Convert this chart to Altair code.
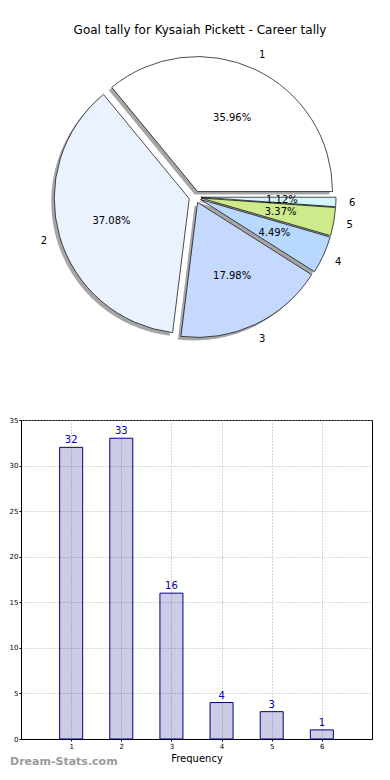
import math
import altair as alt
import pandas as pd

# ---- data ----
categories = [1, 2, 3, 4, 5, 6]
counts = [32, 33, 16, 4, 3, 1]
slice_colors = ["#ffffff", "#eaf1ff", "#c5d9ff", "#b9d8ff", "#cdeb8b", "#d4f5fc"]
title_text = "Goal tally for Kysaiah Pickett - Career tally"
x_ticks = [1, 2, 3, 4, 5, 6]
y_ticks = [0, 5, 10, 15, 20, 25, 30, 35]

df = pd.DataFrame({"cat": categories, "n": counts})

# ---- layout constants (pixels) ----
CX, CY, R, E = 174, 154, 135, 6
FONT = "DejaVu Sans"

pie_base = (
    alt.Chart(df)
    .transform_joinaggregate(total="sum(n)")
    .transform_window(cum="sum(n)", sort=[alt.SortField("cat", order="descending")], frame=[None, 0])
    .transform_calculate(fs="(datum.cum - datum.n) / datum.total", fe="datum.cum / datum.total")
    .transform_calculate(mid="PI / 2 + PI * (datum.fs + datum.fe)")
    .transform_calculate(
        ax=f"{CX} + {E} * sin(datum.mid)",
        ay=f"{CY} - {E} * cos(datum.mid)",
        pct="format(datum.n / datum.total * 100, '.2f') + '%'",
        lab="'' + datum.cat",
    )
    .transform_calculate(
        px=f"datum.ax + {0.6 * R} * sin(datum.mid)",
        py=f"datum.ay - {0.6 * R} * cos(datum.mid)",
        lx=f"datum.ax + {1.12 * R} * sin(datum.mid)",
        ly=f"datum.ay - {1.12 * R} * cos(datum.mid)",
        sx="datum.ax - 3",
        sy="datum.ay + 3",
    )
)

theta_scale = alt.Scale(domain=[0, 1], range=[math.pi / 2, 5 * math.pi / 2])

shadow = pie_base.mark_arc(radius=R, fill="#4d4d4d", fillOpacity=0.5).encode(
    theta=alt.Theta("fs:Q", scale=theta_scale),
    theta2="fe:Q",
    x=alt.X("sx:Q", scale=None, axis=None),
    y=alt.Y("sy:Q", scale=None, axis=None),
)

slices = pie_base.mark_arc(radius=R, stroke="black", strokeWidth=0.7).encode(
    theta=alt.Theta("fs:Q", scale=theta_scale),
    theta2="fe:Q",
    x=alt.X("ax:Q", scale=None, axis=None),
    y=alt.Y("ay:Q", scale=None, axis=None),
    color=alt.Color("cat:N", scale=alt.Scale(domain=categories, range=slice_colors), legend=None),
)

pct_text = pie_base.mark_text(font=FONT, fontSize=10, color="black").encode(
    x=alt.X("px:Q", scale=None, axis=None),
    y=alt.Y("py:Q", scale=None, axis=None),
    text="pct:N",
)

cat_text = pie_base.mark_text(font=FONT, fontSize=10, color="black").encode(
    x=alt.X("lx:Q", scale=None, axis=None),
    y=alt.Y("ly:Q", scale=None, axis=None),
    text="lab:N",
)

pie = alt.layer(shadow, slices, pct_text, cat_text).properties(
    width=358,
    height=360,
    title=alt.TitleParams(title_text, font=FONT, fontSize=12, fontWeight="normal", color="black", anchor="middle", offset=6),
    view=alt.ViewBackground(strokeOpacity=0),
)

# ---- bar chart ----
bar_df = pd.DataFrame({"freq": categories, "n": counts})
bar_base = alt.Chart(bar_df)

xenc = alt.X(
    "freq:Q",
    scale=alt.Scale(domain=[0, 7], nice=False, padding=0),
    axis=alt.Axis(values=x_ticks, title="Frequency", grid=True, format="d"),
)
yenc = alt.Y(
    "n:Q",
    scale=alt.Scale(domain=[0, 35], nice=False, padding=0),
    axis=alt.Axis(values=y_ticks, title=None, grid=True, format="d"),
)

bars = bar_base.mark_bar(size=23, fill="#000080", fillOpacity=0.2, stroke="#000080", strokeWidth=1).encode(
    x=xenc, y=yenc
)
bar_labels = bar_base.mark_text(dy=-7, color="#0000aa", fontSize=10, font=FONT).encode(
    x="freq:Q", y="n:Q", text="n:Q"
)
watermark = (
    alt.Chart(pd.DataFrame({"t": ["Dream-Stats.com"]}))
    .mark_text(align="left", baseline="middle", font=FONT, fontSize=11, fontWeight="bold", color="#9a9a9a")
    .encode(x=alt.value(-11), y=alt.value(342), text="t:N")
)

bar_chart = alt.layer(bars, bar_labels, watermark).properties(
    width=351,
    height=319,
    view=alt.ViewBackground(stroke="black", strokeWidth=1),
)

chart = (
    alt.vconcat(pie, bar_chart, spacing=12)
    .properties(padding={"left": 0, "top": 16, "right": 0, "bottom": 0})
    .configure_axis(
        labelFont=FONT,
        labelFontSize=7,
        labelColor="black",
        tickSize=2,
        tickColor="black",
        labelPadding=1,
        domainColor="black",
        gridColor="#b0b0b0",
        gridDash=[1, 2],
        gridWidth=1,
        titleFont=FONT,
        titleFontSize=10,
        titleFontWeight="normal",
        titleColor="black",
        titlePadding=4,
    )
)

chart.save("out.html", embed_options={"renderer": "svg", "actions": False})
